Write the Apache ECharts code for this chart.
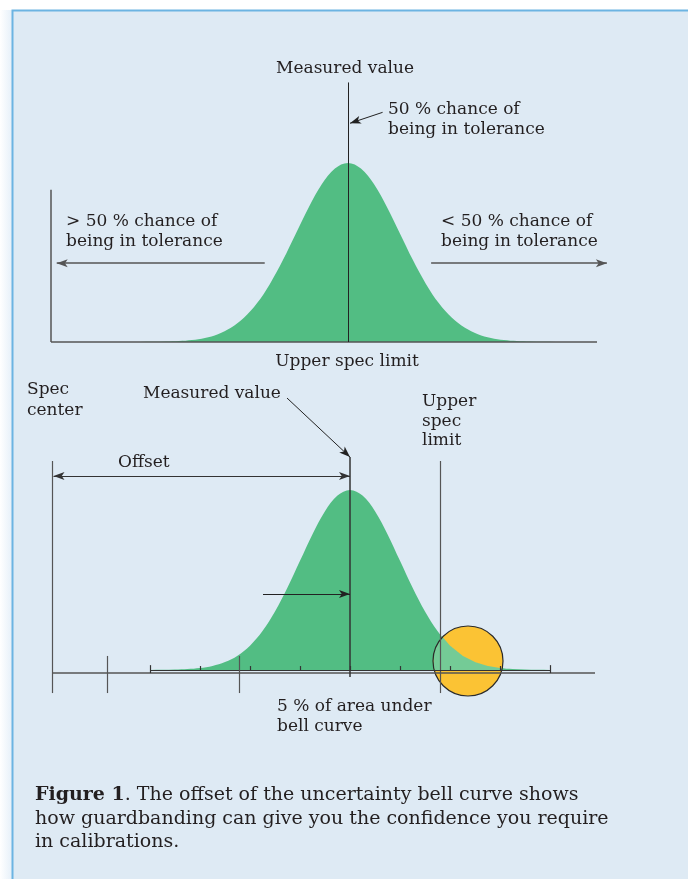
<!DOCTYPE html>
<html><head><meta charset="utf-8">
<script src="https://cdn.jsdelivr.net/npm/echarts@6/dist/echarts.min.js"></script>
<style>html,body{margin:0;padding:0;background:#fff}#c{width:688px;height:879px}</style>
</head><body><div id="c"></div>
<script>
// ---- Bell curve (x in standard deviations, height relative to peak)
const bellX = [-4.5,-4.25,-4,-3.75,-3.5,-3.25,-3,-2.75,-2.5,-2.25,-2,-1.75,-1.5,-1.25,-1,-0.75,-0.5,-0.25,0,
               0.25,0.5,0.75,1,1.25,1.5,1.75,2,2.25,2.5,2.75,3,3.25,3.5,3.75,4,4.25,4.5];
const bellY = [0,0.0001,0.0003,0.0009,0.0022,0.0051,0.0111,0.0228,0.0439,0.0796,0.1353,0.2163,0.3247,0.4578,0.6065,0.7548,0.8825,0.9692,1,
               0.9692,0.8825,0.7548,0.6065,0.4578,0.3247,0.2163,0.1353,0.0796,0.0439,0.0228,0.0111,0.0051,0.0022,0.0009,0.0003,0.0001,0];

// ---- Top panel values (sigma units / relative height)
const topAxisLeft = -5.71, topAxisRight = 4.79, topAxisTop = 0.85, topRangeRight = 5.1;
const topMeasured = 0, topMeasuredTop = 1.45;
const topArrowLevel = 0.44;
const topArrowLeft = [-1.6, -5.6];
const topArrowRight = [1.6, 4.98];
const topPointerFrom = [0.667, 1.283], topPointerTo = [0.04, 1.222];

// ---- Bottom panel values
const specCenter = -5.96, upperSpecLimit = 1.8, measuredValue = 0, bottomAxisRight = 4.9;
const bottomAxisLevel = -0.017;
const guideTop = 1.161, guideBottom = -0.128;
const toleranceTicks = [-4.85, -2.22];
const sigmaTicks = [-4,-3,-2,-1,0,1,2,3,4];
const measuredTop = 1.183;
const offsetLevel = 1.078;
const shiftArrow = [-1.74, 0.422];
const labelPointerFrom = [-1.26, 1.511];
const guardCircle = [2.36, 0.05];

const GREEN = '#52bd83', LIGHTGREEN = '#74cb96', ORANGE = '#fbc334', INK = '#231f20', AX = '#555';
const FONT = '"DejaVu Serif", serif';

function seg(a, b, color, width, s1, s2) {
  const ls = {color: color, width: width, type: 'solid'};
  return [{coord: a, symbol: s1 || 'none', lineStyle: ls}, {coord: b, symbol: s2 || 'none', lineStyle: ls}];
}

const topLines = [
  seg([topAxisLeft, 0], [topAxisLeft, topAxisTop], AX, 1.5),
  seg([topAxisLeft, 0], [topAxisRight, 0], AX, 1.5),
  seg([topMeasured, 0], [topMeasured, topMeasuredTop], '#222', 1),
  seg([topArrowLeft[0], topArrowLevel], [topArrowLeft[1], topArrowLevel], AX, 1.5, 'none', 'arrow'),
  seg([topArrowRight[0], topArrowLevel], [topArrowRight[1], topArrowLevel], AX, 1.5, 'none', 'arrow'),
  seg(topPointerFrom, topPointerTo, '#222', 1, 'none', 'arrow')
];

const bottomLines = [
  seg([specCenter, bottomAxisLevel], [bottomAxisRight, bottomAxisLevel], AX, 1.5),
  seg([specCenter, guideTop], [specCenter, guideBottom], AX, 1.2),
  seg([upperSpecLimit, guideTop], [upperSpecLimit, guideBottom], AX, 1.2),
  seg([measuredValue, measuredTop], [measuredValue, -0.039], '#333', 1.5),
  seg([sigmaTicks[0], 0], [sigmaTicks[sigmaTicks.length - 1], 0], '#333', 1.2),
  seg([measuredValue, offsetLevel], [specCenter + 0.03, offsetLevel], '#333', 1, 'arrow', 'arrow'),
  seg(shiftArrow, [measuredValue, shiftArrow[1]], '#222', 1.2, 'none', 'arrow'),
  seg(labelPointerFrom, [measuredValue, measuredTop], '#222', 1, 'none', 'arrow')
];
toleranceTicks.forEach(function (x) { bottomLines.push(seg([x, 0.078], [x, guideBottom], AX, 1.2)); });
sigmaTicks.forEach(function (x, i) {
  const end = (i === 0 || i === sigmaTicks.length - 1);
  bottomLines.push(seg([x, end ? 0.027 : 0.022], [x, end ? -0.017 : 0], '#333', 1.2));
});

function bellData() { return bellX.map(function (x, i) { return [x, bellY[i]]; }); }

function bellSeries(idx, lines) {
  return {
    type: 'line', xAxisIndex: idx, yAxisIndex: idx, data: bellData(), smooth: 0.35,
    showSymbol: false, symbol: 'none', clip: false, silent: true, z: 2,
    lineStyle: {width: 0, color: GREEN}, areaStyle: {color: GREEN, opacity: 1},
    markLine: {silent: true, animation: false, symbolSize: [6, 11], label: {show: false},
               emphasis: {disabled: true}, data: lines}
  };
}

const chart = echarts.init(document.getElementById('c'), null, {renderer: 'canvas'});

function txt(s, x, y, size, align) {
  return {type: 'text', z: 100, style: {text: s, x: x, y: y, fill: INK,
    font: size + 'px ' + FONT, textAlign: align || 'left', textVerticalAlign: 'middle'}};
}

chart.setOption({
  animation: false,
  backgroundColor: '#ffffff',
  grid: [
    {left: 51, top: 73.5, width: (topRangeRight - topAxisLeft) * 52, height: 268.5},
    {left: 52, top: 391, width: 543, height: 306}
  ],
  xAxis: [
    {gridIndex: 0, type: 'value', min: topAxisLeft, max: topRangeRight, show: false},
    {gridIndex: 1, type: 'value', min: specCenter, max: bottomAxisRight, show: false}
  ],
  yAxis: [
    {gridIndex: 0, type: 'value', min: 0, max: 1.5, show: false},
    {gridIndex: 1, type: 'value', min: -0.15, max: 1.55, show: false}
  ],
  graphic: [
    {type: 'rect', z: -20, shape: {x: 0, y: 10, width: 12, height: 880},
     style: {fill: new echarts.graphic.LinearGradient(0, 0, 1, 0, [{offset: 0, color: '#ffffff'}, {offset: 1, color: '#e6f0f9'}])}},
    {type: 'rect', z: -10, shape: {x: 12.5, y: 10.5, width: 900, height: 1000},
     style: {fill: '#deeaf4', stroke: '#6cb4e2', lineWidth: 2}},
    txt('Measured value', 345, 69, 17, 'center'),
    txt('50 % chance of', 388, 110, 17),
    txt('being in tolerance', 388, 130, 17),
    txt('> 50 % chance of', 66, 222, 17),
    txt('being in tolerance', 66, 242, 17),
    txt('< 50 % chance of', 441, 222, 17),
    txt('being in tolerance', 441, 242, 17),
    txt('Upper spec limit', 347, 362, 17, 'center'),
    txt('Spec', 27, 390, 17),
    txt('center', 27, 411, 17),
    txt('Measured value', 143, 394, 17),
    txt('Upper', 422, 402, 17),
    txt('spec', 422, 422, 17),
    txt('limit', 422, 441, 17),
    txt('Offset', 118, 463, 17),
    txt('5 % of area under', 277, 707, 17),
    txt('bell curve', 277, 727, 17),
    {type: 'text', z: 100, style: {x: 35, y: 795, textVerticalAlign: 'middle', fill: INK,
      font: '19px ' + FONT,
      text: '{b|Figure 1}. The offset of the uncertainty bell curve shows',
      rich: {b: {fontWeight: 'bold', fontSize: 19, fontFamily: FONT, fill: INK}}}},
    txt('how guardbanding can give you the confidence you require', 35, 819, 19),
    txt('in calibrations.', 35, 842, 19)
  ],
  series: [
    bellSeries(0, topLines),
    bellSeries(1, bottomLines),
    {
      type: 'custom', xAxisIndex: 1, yAxisIndex: 1, z: 3, clip: false, silent: true,
      data: [guardCircle],
      encode: {x: 0, y: 1},
      renderItem: function (params, api) {
        const c = api.coord([api.value(0), api.value(1)]);
        const r = 35;
        const base = api.coord([0, 0])[1];
        const pts = bellX.map(function (x, i) { return api.coord([x, bellY[i]]); });
        function curveY(px) {
          for (let k = 0; k < pts.length - 1; k++) {
            if (px >= pts[k][0] && px <= pts[k + 1][0]) {
              const t = (px - pts[k][0]) / (pts[k + 1][0] - pts[k][0]);
              return pts[k][1] + t * (pts[k + 1][1] - pts[k][1]);
            }
          }
          return base;
        }
        const top = [], bot = [];
        for (let px = c[0] - r; px <= c[0] + r + 0.001; px += 0.5) {
          const h = Math.sqrt(Math.max(0, r * r - (px - c[0]) * (px - c[0])));
          const t = Math.max(c[1] - h, curveY(px));
          const b = Math.min(c[1] + h, base);
          if (t < b) { top.push([px, t]); bot.unshift([px, b]); }
        }
        return {type: 'group', children: [
          {type: 'circle', shape: {cx: c[0], cy: c[1], r: r}, style: {fill: ORANGE}},
          {type: 'polygon', shape: {points: top.concat(bot)}, style: {fill: LIGHTGREEN}},
          {type: 'circle', shape: {cx: c[0], cy: c[1], r: r}, style: {fill: 'none', stroke: '#2a2a2a', lineWidth: 1.2}}
        ]};
      }
    }
  ]
});
</script></body></html>
